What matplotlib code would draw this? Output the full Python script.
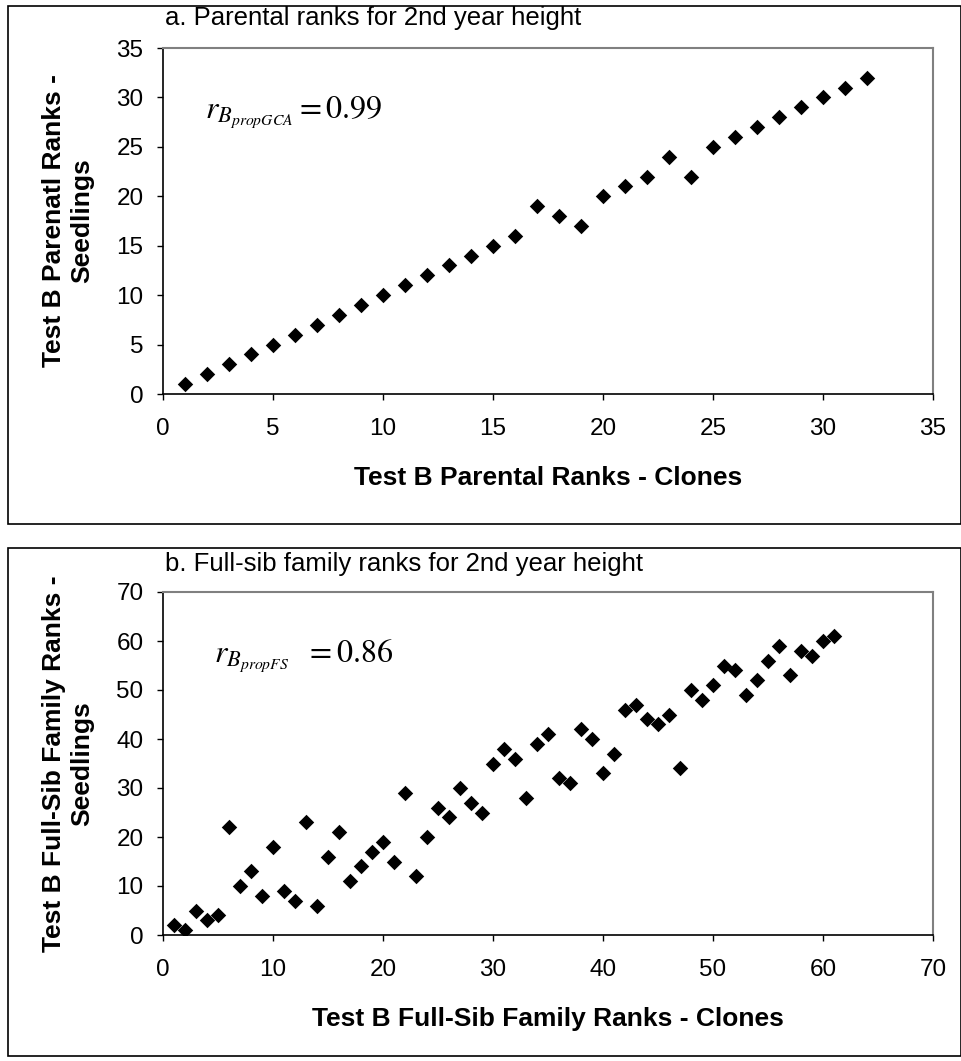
import matplotlib.pyplot as plt
from matplotlib.patches import Rectangle

# panel a: parental ranks
clone_rank_a = list(range(1, 33))
seedling_rank_a = [1, 2, 3, 4, 5, 6, 7, 8, 9, 10, 11, 12, 13, 14, 15, 16,
                   19, 18, 17, 20, 21, 22, 24, 22, 25, 26, 27, 28, 29, 30, 31, 32]

# panel b: full-sib family ranks
clone_rank_b = list(range(1, 62))
seedling_rank_b = [2, 1, 5, 3, 4, 22, 10, 13, 8, 18, 9, 7, 23, 6, 16, 21, 11, 14,
                   17, 19, 15, 29, 12, 20, 26, 24, 30, 27, 25, 35, 38, 36, 28, 39,
                   41, 32, 31, 42, 40, 33, 37, 46, 47, 44, 43, 45, 34, 50, 48, 51,
                   55, 54, 49, 52, 56, 59, 53, 58, 57, 60, 61]

plt.rcParams['font.family'] = ['Liberation Sans', 'DejaVu Sans']
plt.rcParams['mathtext.fontset'] = 'stix'

W, H = 962, 1061
fig = plt.figure(figsize=(W / 100, H / 100), dpi=100)


def frac(x0, y0, x1, y1):
    # pixel box (top-left origin) -> figure fraction
    return [x0 / W, 1 - y1 / H, (x1 - x0) / W, (y1 - y0) / H]


panels = [
    dict(x=clone_rank_a, y=seedling_rank_a, lim=35, step=5, top=48, bot=394,
         box=(8, 6, 961, 524), title_y=18, note_x=0.055,
         title="a. Parental ranks for 2nd year height",
         xlabel="Test B Parental Ranks - Clones",
         ylabel="Test B Parenatl Ranks -\nSeedlings",
         note=r"$r_{B_{propGCA}}=0.99$"),
    dict(x=clone_rank_b, y=seedling_rank_b, lim=70, step=10, top=592, bot=935,
         box=(8, 548, 961, 1056), title_y=564, note_x=0.066,
         title="b. Full-sib family ranks for 2nd year height",
         xlabel="Test B Full-Sib Family Ranks - Clones",
         ylabel="Test B Full-Sib Family Ranks -\nSeedlings",
         note=r"$r_{B_{propFS}}\ \ =0.86$"),
]

for p in panels:
    bx0, by0, bx1, by1 = p["box"]
    fig.patches.append(Rectangle((bx0 / W, 1 - by1 / H), (bx1 - bx0) / W,
                                 (by1 - by0) / H, transform=fig.transFigure,
                                 fill=False, edgecolor='black', linewidth=1.2))

    ax = fig.add_axes(frac(163, p["top"], 933, p["bot"]))
    ax.scatter(p["x"], p["y"], marker='D', s=62, color='black', linewidths=0)
    ax.set_xlim(0, p["lim"])
    ax.set_ylim(0, p["lim"])
    ticks = list(range(0, p["lim"] + 1, p["step"]))
    ax.set_xticks(ticks)
    ax.set_yticks(ticks)
    ax.tick_params(direction='out', length=4, width=1, labelsize=17.5)
    ax.tick_params(axis='x', pad=13)
    ax.tick_params(axis='y', pad=10)
    for side in ['top', 'right']:
        ax.spines[side].set_color('#808080')
        ax.spines[side].set_linewidth(1.5)
    for side in ['left', 'bottom']:
        ax.spines[side].set_linewidth(1.2)

    ax.text(p["note_x"], 0.815, p["note"], transform=ax.transAxes, fontsize=23,
            va='center', ha='left')

    fig.text(165 / W, 1 - p["title_y"] / H, p["title"], fontsize=18.5,
             ha='left', va='center')
    fig.text(548 / W, 1 - (p["bot"] + 84) / H, p["xlabel"], fontsize=19,
             fontweight='bold', ha='center', va='center')
    fig.text(68 / W, 1 - (p["top"] + p["bot"]) / 2 / H, p["ylabel"],
             fontsize=19, fontweight='bold', rotation=90, ha='center',
             va='center', multialignment='center', linespacing=1.25)

plt.savefig("out.png", dpi=100)
